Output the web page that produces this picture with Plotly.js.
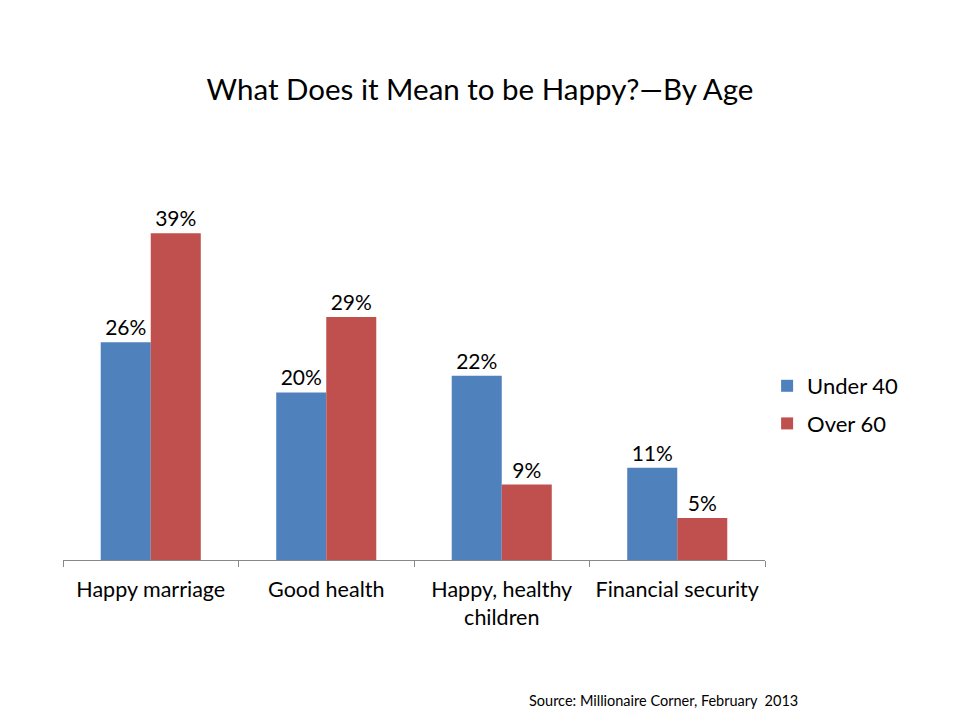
<!DOCTYPE html>
<html>
<head>
<meta charset="utf-8">
<script src="https://cdn.plot.ly/plotly-3.0.1.min.js"></script>
<style>html,body{margin:0;padding:0;background:#fff;}#chart{width:960px;height:720px;}</style>
</head>
<body>
<div id="chart"></div>
<script>
const categories = ["Happy marriage", "Good health", "Happy, healthy<br>children", "Financial security"];
const under40 = [26, 20, 22, 11];
const over60 = [39, 29, 9, 5];
const seriesNames = ["Under 40", "Over 60"];

const FONT = "Lato, 'Open Sans', sans-serif";
const traces = [
  {type: "bar", name: seriesNames[0], legendgroup: "a", x: categories, y: under40, marker: {color: "#4F81BD"},
   text: under40.map(v => v + "%"), textposition: "outside", textfont: {size: 21, color: "#000", family: FONT}, cliponaxis: false, hoverinfo: "none"},
  {type: "bar", name: seriesNames[1], legendgroup: "b", x: categories, y: over60, marker: {color: "#C0504D"},
   text: over60.map(v => v + "%"), textposition: "outside", textfont: {size: 21, color: "#000", family: FONT}, cliponaxis: false, hoverinfo: "none"}
];
const layout = {
  width: 960, height: 720,
  paper_bgcolor: "#fff", plot_bgcolor: "#fff",
  font: {family: FONT, color: "#000"},
  margin: {l: 63, r: 195, t: 183, b: 160},
  title: {text: "What Does it Mean to be Happy?\u2014By Age", xref: "container", x: 0.5, xanchor: "center", yref: "container", y: 1 - 90/720, yanchor: "middle", font: {size: 29.5, family: FONT, color: "#000"}},
  barmode: "group", bargap: 0.43, bargroupgap: 0,
  xaxis: {showline: true, linecolor: "#888", linewidth: 1, ticks: "outside", tickson: "boundaries", ticklen: 6, tickcolor: "#888",
          ticklabelstandoff: 10, tickangle: 0,
          tickfont: {size: 21.5, family: FONT, color: "#000"}, showgrid: false, zeroline: false, fixedrange: true},
  yaxis: {range: [0, 45], visible: false, showgrid: false, zeroline: false, fixedrange: true},
  legend: {x: 1.003, xanchor: "left", y: (560 - 405) / 377, yanchor: "middle", font: {size: 22, family: FONT, color: "#000"}, tracegroupgap: 6, itemwidth: 30},
  showlegend: true,
  annotations: [{text: "Source: Millionaire Corner, February  2013", xref: "paper", yref: "paper", x: (800 - 63) / 702, y: (560 - 700) / 377, xanchor: "right", yanchor: "middle",
                 showarrow: false, font: {size: 14.5, family: FONT, color: "#000"}}]
};
Plotly.newPlot("chart", traces, layout, {displayModeBar: false, staticPlot: true});
</script>
</body>
</html>
